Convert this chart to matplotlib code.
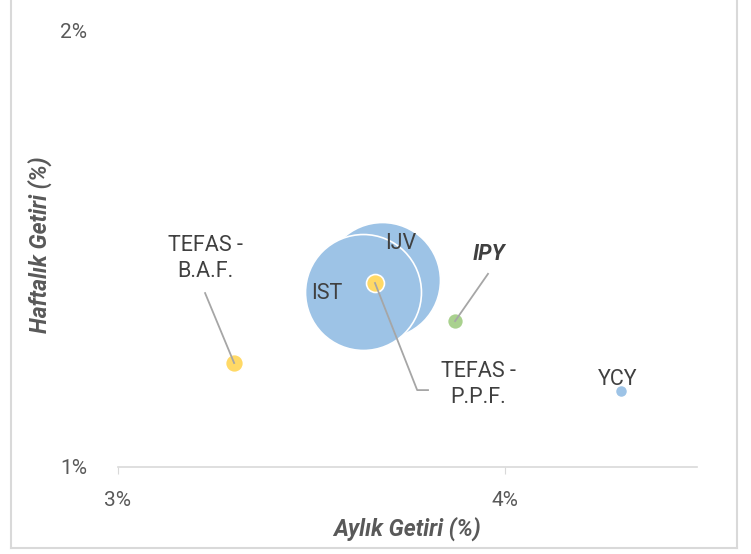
import matplotlib
matplotlib.use('Agg')
from matplotlib import pyplot as plt
from matplotlib.lines import Line2D

plt.rcParams['font.family'] = ['Roboto', 'DejaVu Sans']

# Veriler: aylık getiri (%), haftalık getiri (%), balon büyüklüğü
isimler = ['IJV', 'IST', 'TEFAS - P.P.F.', 'TEFAS - B.A.F.', 'IPY', 'YCY']
aylik = [3.682, 3.633, 3.664, 3.300, 3.871, 4.300]
haftalik = [1.428, 1.400, 1.421, 1.238, 1.334, 1.174]
buyukluk = [100, 100, 2.4, 2.4, 1.9, 1.1]
renkler = ['#9DC3E6', '#9DC3E6', '#FFD966', '#FFD966', '#A9D18E', '#9DC3E6']

x_ticks = [3, 4]
x_tick_labels = ['3%', '4%']
y_ticks = [1, 2]
y_tick_labels = ['1%', '2%']

W, H = 751, 554
fig = plt.figure(figsize=(W / 100, H / 100), dpi=100)
ax = fig.add_axes([118 / W, 1 - 467 / H, (697 - 118) / W, (467 - 30) / H])

for xi, yi, s, c in zip(aylik, haftalik, buyukluk, renkler):
    ax.scatter(xi, yi, s=s * 69.7, color=c, edgecolors='white', linewidths=1.2,
               zorder=2, clip_on=False)

ax.set_xlim(3, 4.496)
ax.set_ylim(1, 2)

gri = '#595959'
ax.set_xticks(x_ticks)
ax.set_xticklabels(x_tick_labels)
ax.set_yticks(y_ticks)
ax.set_yticklabels(y_tick_labels)
ax.tick_params(axis='x', length=5, color='#D9D9D9', labelsize=15, labelcolor=gri, pad=12)
ax.tick_params(axis='y', length=0, labelsize=15, labelcolor=gri, pad=22)
for k in ['top', 'right', 'left']:
    ax.spines[k].set_visible(False)
ax.spines['bottom'].set_color('#D9D9D9')
ax.spines['bottom'].set_linewidth(1.2)

# Etiketler
yazi = '#404040'
ax.text(3.730, 1.512, 'IJV', fontsize=15.5, color=yazi, ha='center', va='center', zorder=4)
ax.text(3.540, 1.398, 'IST', fontsize=15.5, color=yazi, ha='center', va='center', zorder=4)
ax.text(3.958, 1.488, 'IPY', fontsize=15.5, color=yazi, ha='center', va='center',
        fontweight='bold', fontstyle='italic', zorder=4)
ax.text(3.225, 1.478, 'TEFAS -\nB.A.F.', fontsize=15.5, color=yazi, ha='center',
        va='center', linespacing=1.3, zorder=4)
ax.text(3.930, 1.188, 'TEFAS -\nP.P.F.', fontsize=15.5, color=yazi, ha='center',
        va='center', linespacing=1.3, zorder=4)
ax.text(4.290, 1.201, 'YCY', fontsize=15.5, color=yazi, ha='center', va='center', zorder=4)

# Bağlantı çizgileri
cizgi = dict(color='#A6A6A6', lw=1.3, zorder=3)
ax.plot([3.225, 3.300], [1.398, 1.238], **cizgi)
ax.plot([3.956, 3.871], [1.442, 1.334], **cizgi)
ax.plot([3.664, 3.773, 3.801], [1.421, 1.176, 1.176], **cizgi)

ax.set_xlabel('Aylık Getiri (%)', fontsize=16.5, color=gri, fontweight='bold',
              fontstyle='italic', labelpad=5)
ax.set_ylabel('Haftalık Getiri (%)', fontsize=16.5, color=gri, fontweight='bold',
              fontstyle='italic')
ax.yaxis.set_label_coords(-66 / (697 - 118), (467 - 245) / (467 - 30))

# Dış çerçeve
kenar = '#D9D9D9'
fig.add_artist(Line2D([10.5 / W, 10.5 / W], [1, 1 - 547.5 / H], color=kenar, lw=1.5))
fig.add_artist(Line2D([736.5 / W, 736.5 / W], [1, 1 - 547.5 / H], color=kenar, lw=1.5))
fig.add_artist(Line2D([10.5 / W, 736.5 / W], [1 - 547.5 / H, 1 - 547.5 / H], color=kenar, lw=1.5))

fig.savefig('out.png', dpi=100)
